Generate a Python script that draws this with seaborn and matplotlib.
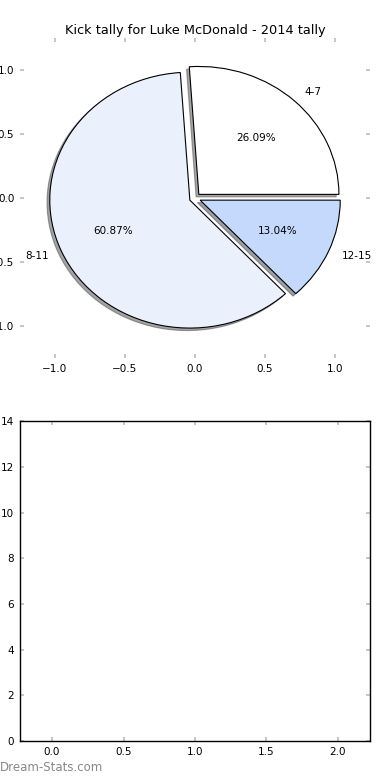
import matplotlib
matplotlib.use("Agg")
import matplotlib.pyplot as plt
import seaborn as sns

# Data
labels = ["4-7", "8-11", "12-15"]
kicks = [6, 14, 3]
colors = ["#ffffff", "#eaf1fd", "#c5d9fd"]
explode = [0.04, 0.04, 0.04]

bar_xlim = (-0.225, 2.225)
bar_ylim = (0, 14)

sns.set_theme(style="white")
plt.rcParams['font.family'] = ['DejaVu Sans']
plt.rcParams['text.color'] = 'black'

fig = plt.figure(figsize=(3.9, 7.8), dpi=100)
ax1 = fig.add_axes([0.051, 0.541, 0.898, 0.410])
ax2 = fig.add_axes([0.051, 0.050, 0.898, 0.410])

# Pie
ax1.pie(kicks, labels=labels, colors=colors, explode=explode, autopct='%1.2f%%',
        shadow={'ox': -0.014, 'oy': -0.014}, frame=True,
        wedgeprops={'edgecolor': 'black', 'linewidth': 0.8},
        textprops={'fontsize': 7.5, 'color': 'black'})
ax1.set_aspect('auto')
ax1.set_xlim(-1.25, 1.25)
ax1.set_ylim(-1.25, 1.25)
ax1.set_xticks([-1.0, -0.5, 0.0, 0.5, 1.0])
ax1.set_yticks([-1.0, -0.5, 0.0, 0.5, 1.0])
for s in ax1.spines.values():
    s.set_visible(False)
ax1.set_title("Kick tally for Luke McDonald - 2014 tally", fontsize=9.3,
              color='black', pad=3)

# Empty bar axes
ax2.set_xlim(*bar_xlim)
ax2.set_ylim(*bar_ylim)
ax2.set_xticks([0.0, 0.5, 1.0, 1.5, 2.0])
ax2.set_yticks(range(0, 15, 2))
for s in ax2.spines.values():
    s.set_visible(True)
    s.set_color('black')
    s.set_linewidth(1.0)

for ax in (ax1, ax2):
    ax.tick_params(direction='in', length=3, width=1.2, color='#bbbbbb',
                   top=True, right=True, bottom=True, left=True,
                   labelsize=7.5, labelcolor='black', pad=4)

fig.text(0.0, 0.012, "Dream-Stats.com", fontsize=8.5, color='#888888')

fig.savefig("out.png", dpi=100)
